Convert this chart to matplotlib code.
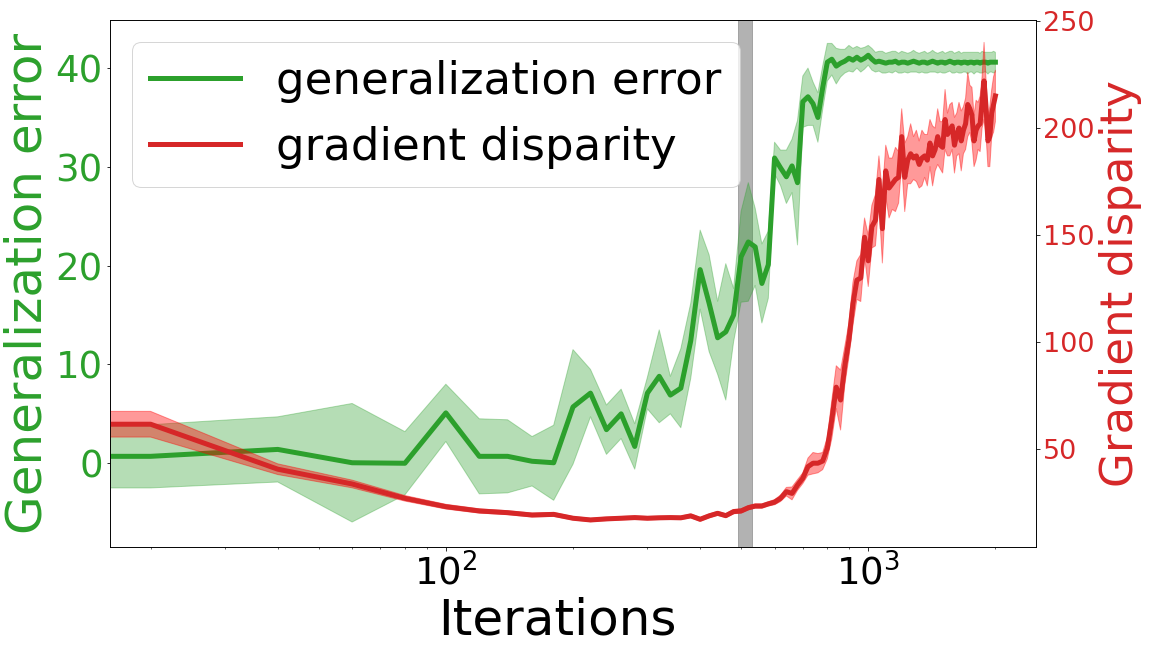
import numpy as np
import matplotlib.pyplot as plt

# iterations (every 20 steps, the first point sits at 0 and is clipped by the log axis)
iterations = np.arange(0, 2001, 20)

gen_err = [0.7, 0.7, 1.4, 0.05, 0.0, 5.1, 0.7, 0.7, 0.2, 0.05,
           5.7, 7.1, 3.4, 5.0, 1.7, 7.1, 8.8, 6.9, 7.6, 12.4,
           19.6, 16.2, 12.7, 13.3, 15.0, 20.9, 22.4, 21.9, 18.2, 20.1,
           30.9, 29.9, 29.0, 30.1, 28.4, 36.6, 37.1, 36.4, 35.0, 38.0,
           40.6, 40.9, 40.2, 40.5, 40.7, 41.0, 40.8, 41.1, 40.8, 41.0,
           41.3, 40.9, 40.6, 40.7, 40.6, 40.5, 40.6, 40.6, 40.7, 40.5,
           40.6, 40.6, 40.5, 40.6, 40.7, 40.6, 40.5, 40.6, 40.6, 40.5,
           40.6, 40.7, 40.6, 40.5, 40.6, 40.6, 40.5, 40.6, 40.7, 40.6,
           40.5, 40.6, 40.6, 40.5, 40.6, 40.6, 40.5, 40.6, 40.6, 40.5,
           40.6, 40.6, 40.5, 40.6, 40.6, 40.6, 40.5, 40.6, 40.6, 40.6,
           40.6]
gen_std = [3.2, 3.2, 3.3, 6.0, 3.2, 2.9, 3.8, 3.7, 2.5, 3.8,
           5.8, 2.4, 2.5, 2.5, 2.3, 1.6, 4.7, 1.9, 4.0, 3.8,
           4.0, 4.9, 3.7, 6.9, 2.7, 4.6, 6.0, 3.9, 4.0, 3.4,
           1.6, 1.8, 2.7, 2.7, 6.3, 2.6, 2.9, 2.2, 2.5, 2.2,
           1.9, 1.6, 1.8, 1.4, 1.2, 1.3, 1.2, 1.1, 1.2, 1.1,
           1.0, 1.1, 1.0, 1.0, 1.1, 1.0, 1.0, 1.1, 1.0, 1.0,
           1.1, 1.0, 1.0, 1.0, 1.1, 1.0, 1.0, 1.0, 1.1, 1.0,
           1.0, 1.1, 1.0, 1.0, 1.0, 1.1, 1.0, 1.0, 1.0, 1.1,
           1.0, 1.0, 1.1, 1.0, 1.0, 1.0, 1.1, 1.0, 1.0, 1.1,
           1.0, 1.0, 1.0, 1.1, 1.0, 1.0, 1.1, 1.0, 1.0, 1.1,
           1.0]

grad_disp = [61.7, 61.7, 40.7, 33.8, 27.1, 23.2, 21.2, 20.4, 19.3, 19.6,
             17.8, 17.0, 17.5, 17.8, 18.1, 17.8, 18.0, 18.1, 18.0, 18.9,
             17.3, 18.9, 20.1, 19.0, 20.9, 21.2, 22.7, 23.5, 23.5, 24.5,
             25.3, 27.1, 30.2, 29.4, 33.3, 36.5, 41.9, 43.5, 43.5, 44.5,
             50.5, 64.0, 79.0, 73.0, 89.0, 101.0, 118.0, 129.0, 130.0, 149.0,
             138.0, 154.0, 157.0, 176.0, 153.0, 180.0, 172.0, 174.0, 176.0, 177.0,
             196.0, 177.0, 185.0, 188.0, 186.0, 187.0, 183.0, 186.0, 187.0, 185.0,
             193.0, 187.0, 190.0, 196.0, 192.0, 191.0, 204.0, 197.0, 199.0, 201.0,
             192.0, 197.0, 200.0, 194.0, 199.0, 202.0, 211.0, 209.0, 206.0, 194.0,
             199.0, 201.0, 202.0, 212.0, 222.0, 210.0, 194.0, 196.0, 207.0, 211.0,
             215.0]
grad_std = [6.0, 6.0, 2.5, 1.8, 1.3, 1.1, 1.0, 0.9, 0.9, 0.9,
            0.8, 0.8, 0.8, 0.8, 0.8, 0.8, 0.8, 0.8, 0.8, 0.9,
            0.9, 0.9, 0.9, 0.9, 1.0, 1.0, 1.0, 1.0, 1.0, 1.0,
            1.2, 1.5, 2.0, 3.0, 2.5, 2.5, 4.0, 5.0, 4.5, 4.0,
            5.0, 9.0, 10.0, 14.0, 9.0, 8.0, 10.0, 9.0, 11.0, 9.0,
            12.0, 10.0, 12.0, 11.0, 16.0, 12.0, 14.0, 12.0, 15.0, 12.0,
            13.0, 16.0, 11.0, 14.0, 10.0, 12.0, 11.0, 13.0, 10.0, 12.0,
            11.0, 14.0, 10.0, 13.0, 11.0, 12.0, 14.0, 10.0, 12.0, 11.0,
            13.0, 10.0, 12.0, 14.0, 11.0, 12.0, 15.0, 11.0, 13.0, 12.0,
            14.0, 11.0, 13.0, 12.0, 18.0, 13.0, 12.0, 14.0, 11.0, 13.0,
            12.0]

# shaded window of iterations
window = [492, 531]

gen_err = np.array(gen_err)
gen_std = np.array(gen_std)
grad_disp = np.array(grad_disp)
grad_std = np.array(grad_std)

fig = plt.figure(figsize=(16, 9), dpi=72)
ax1 = fig.add_axes([0.0952, 0.1563, 0.8044, 0.8133])
ax2 = ax1.twinx()

ax1.axvspan(window[0], window[1], color='gray', alpha=0.6)
ax1.fill_between(iterations, gen_err - gen_std, gen_err + gen_std,
                 color='tab:green', alpha=0.35)
l1, = ax1.plot(iterations, gen_err, color='tab:green', linewidth=5,
               label='generalization error')

ax2.fill_between(iterations, grad_disp - grad_std, grad_disp + grad_std,
                 color='red', alpha=0.4)
l2, = ax2.plot(iterations, grad_disp, color='tab:red', linewidth=5,
               label='gradient disparity')

ax1.set_xscale('log')
ax1.set_xlim(16, 2500)
ax1.set_ylim(-8.45, 44.9)
ax2.set_ylim(4.5, 250.6)
ax1.set_yticks([0, 10, 20, 30, 40])
ax2.set_yticks([50, 100, 150, 200, 250])

ax1.set_xlabel('Iterations', fontsize=50, x=0.483)
ax1.set_ylabel('Generalization error', fontsize=50, color='tab:green')
ax2.set_ylabel('Gradient disparity', fontsize=45, color='tab:red')

ax1.tick_params(axis='x', labelsize=37)
ax1.tick_params(axis='y', labelsize=37, labelcolor='tab:green')
ax2.tick_params(axis='y', labelsize=27, labelcolor='tab:red')

ax2.legend(handles=[l1, l2], loc='upper left', fontsize=45)

fig.savefig('out.png', dpi=72)
